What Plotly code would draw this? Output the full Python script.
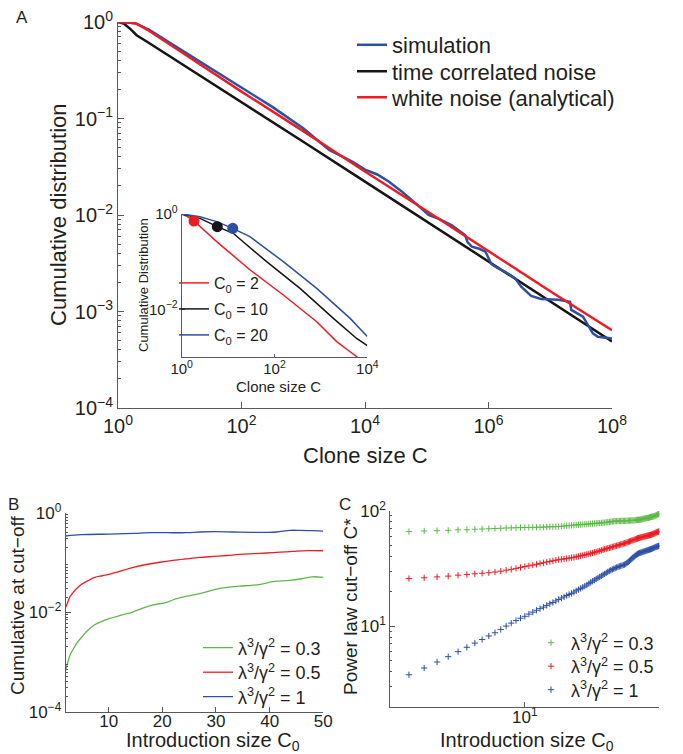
import plotly.graph_objects as go

W, H = 683, 754
FONT = "Liberation Sans"
TXT = "#231f20"
AX = "#58595b"
BLUE = "#2e4fa6"
RED = "#ed1c24"
BLACK = "#151515"
GREEN = "#5fb94a"

# ---------------- Panel A (main) ----------------
A_sim_C = [1, 1.41, 1.86, 3.16, 10, 31.6, 100, 316, 1000, 2630, 3800, 6310, 1.0e4, 1.58e4,
           2.45e4, 3.98e4, 6.61e4, 1.07e5, 1.58e5, 2.51e5, 4.17e5, 4.57e5, 5.37e5, 7.08e5,
           8.91e5, 1.12e6, 1.41e6, 1.86e6, 2.69e6, 3.39e6, 4.9e6, 7.08e6, 1.35e7, 2.09e7,
           2.19e7, 2.82e7, 3.39e7, 4.9e7, 5.89e7, 9.33e7, 1e8]
A_sim_P = [1.0, 0.993, 0.977, 0.832, 0.525, 0.331, 0.209, 0.132, 0.0794, 0.0472, 0.0419,
           0.0355, 0.0295, 0.0263, 0.0221, 0.0174, 0.0132, 0.0100, 0.00912, 0.00787, 0.00621,
           0.00525, 0.0047, 0.00447, 0.00417, 0.00309, 0.00282, 0.00257, 0.00221, 0.00181,
           0.00145, 0.00135, 0.00132, 0.00126, 0.00104, 0.00095, 0.000883, 0.000594,
           0.000548, 0.000527, 0.000525]
A_tc_C = [1, 1.26, 1.58, 2, 3, 10, 100, 1e3, 1e4, 1e5, 1e6, 1e7, 1e8]
A_tc_P = [1.0, 0.955, 0.85, 0.73, 0.62, 0.38, 0.149, 0.0575, 0.0222, 0.0086, 0.0033, 0.00128, 0.00049]
A_wn_C = [1, 1.5, 2, 3, 10, 100, 1e3, 1e4, 1e5, 1e6, 1e7, 1e8]
A_wn_P = [1.0, 0.99, 0.96, 0.83, 0.50, 0.19, 0.074, 0.0282, 0.011, 0.0042, 0.00162, 0.00064]

# ---------------- Panel A (inset) ----------------
In_c2_C = [1, 1.26, 1.84, 5.68, 29.5, 155, 813, 2190, 4270, 5890, 7000]
In_c2_P = [1.0, 0.91, 0.713, 0.263, 0.0676, 0.020, 0.0055, 0.0021, 0.00129, 0.00102, 0.0008]
In_c10_C = [1, 2.48, 5.85, 12.9, 67.6, 355, 1860, 5890, 1e4]
In_c10_P = [1.0, 0.81, 0.542, 0.394, 0.1, 0.0275, 0.00646, 0.00245, 0.00174]
In_c20_C = [1, 2.48, 5.68, 12.6, 29.5, 155, 813, 4270, 1e4]
In_c20_P = [1.0, 0.879, 0.692, 0.50, 0.335, 0.1, 0.0275, 0.00646, 0.00269]
In_dot_C = [1.84, 5.85, 12.6]
In_dot_P = [0.713, 0.542, 0.50]

# ---------------- Panel B ----------------
B_g_C0 = [2, 2.4, 2.8, 3.4, 4.05, 4.9, 6, 7.4, 8.8, 10.24, 12.5, 14.6, 16.5, 18.3, 20.8, 22.5,
          24.5, 27, 29, 30.7, 32.5, 34.4, 36.5, 38.1, 40.6, 43.7, 46, 48, 50]
B_g_P = [0.00068, 0.001, 0.00137, 0.0018, 0.00236, 0.0031, 0.0042, 0.0056, 0.0066, 0.0075,
         0.0088, 0.0102, 0.0122, 0.0140, 0.0158, 0.0185, 0.021, 0.0235, 0.027, 0.030, 0.032,
         0.0335, 0.0345, 0.036, 0.041, 0.0435, 0.047, 0.0515, 0.050]
B_r_C0 = [2, 2.4, 2.8, 3.4, 4.05, 4.9, 6, 7.4, 8.8, 10.24, 12, 14.6, 17, 19.5, 22, 24.5, 27,
          29.5, 32, 34.4, 37, 39.4, 42, 44.3, 47, 50]
B_r_P = [0.0125, 0.016, 0.0204, 0.025, 0.030, 0.036, 0.042, 0.050, 0.054, 0.058, 0.066, 0.08,
         0.091, 0.101, 0.11, 0.118, 0.126, 0.132, 0.138, 0.145, 0.15, 0.155, 0.161, 0.167,
         0.173, 0.172]
B_b_C0 = [2, 4.9, 10.2, 14.6, 17.7, 20.8, 24.5, 27, 29.5, 33.2, 36.9, 39.4, 41.3, 43.8, 45.6,
          48.1, 50]
B_b_P = [0.34, 0.361, 0.372, 0.385, 0.396, 0.396, 0.396, 0.409, 0.415, 0.409, 0.403, 0.403,
         0.409, 0.442, 0.442, 0.435, 0.428]

# ---------------- Panel C ----------------
C_C0 = [2.5 + 0.5 * i for i in range(96)]
C_g = [65.9, 66.7, 67.1, 67.6, 68.2, 68.4, 69.0, 69.4, 69.8, 70.1, 70.4, 70.8, 71.0, 71.2, 71.4,
       71.5, 71.6, 71.7, 71.8, 71.9, 72.1, 72.3, 72.5, 72.6, 72.8, 72.9, 73.3, 73.7, 74.0, 74.4,
       74.8, 75.0, 75.2, 75.5, 75.7, 76.0, 76.3, 76.5, 76.8, 77.1, 77.3, 77.5, 77.7, 77.9, 78.1,
       78.4, 78.6, 78.9, 79.2, 79.5, 79.8, 80.2, 80.6, 81.0, 81.1, 81.2, 81.3, 81.4, 81.5, 81.6,
       81.7, 81.7, 81.8, 81.9, 82.0, 82.1, 82.2, 82.3, 82.4, 82.5, 82.7, 83.0, 83.3, 83.5, 83.7,
       83.9, 84.2, 84.7, 85.2, 85.7, 86.0, 86.3, 86.6, 86.8, 87.4, 88.0, 88.5, 88.8, 89.2, 89.7,
       90.2, 91.0, 91.8, 92.6, 93.4, 94.0]
C_r = [25.8, 26.2, 26.7, 27.1, 27.6, 28.0, 28.4, 28.7, 29.0, 29.4, 29.9, 30.5, 31.0, 31.6, 32.2,
       32.8, 33.3, 33.8, 34.3, 34.9, 35.4, 35.9, 36.3, 36.8, 37.2, 37.6, 37.9, 38.2, 38.5, 38.8,
       39.1, 39.4, 39.8, 40.2, 40.6, 41.0, 41.4, 41.8, 42.2, 42.6, 43.0, 43.5, 43.9, 44.4, 44.8,
       45.3, 45.8, 46.3, 46.8, 47.2, 47.6, 48.0, 48.5, 48.9, 49.3, 49.7, 50.1, 50.5, 51.0, 51.4,
       51.8, 52.2, 52.6, 53.1, 53.6, 54.1, 54.6, 55.1, 55.6, 56.0, 56.5, 57.0, 57.5, 57.9, 58.3,
       58.6, 58.9, 59.2, 59.5, 59.8, 60.1, 60.4, 60.7, 61.0, 61.3, 61.6, 62.0, 62.5, 63.0, 63.5,
       64.0, 64.5, 65.0, 65.4, 65.8, 66.2]
C_b = [3.78, 4.33, 4.88, 5.43, 6.0, 6.55, 7.12, 7.65, 8.2, 8.75, 9.35, 10.0, 10.6, 11.15, 11.7,
       12.15, 12.7, 13.2, 13.7, 14.15, 14.6, 15.1, 15.6, 16.0, 16.5, 17.0, 17.5, 17.9, 18.4, 18.8,
       19.2, 19.7, 20.2, 20.7, 21.2, 21.7, 22.2, 22.7, 23.3, 23.9, 24.5, 25.0, 25.6, 26.1, 26.6,
       27.2, 27.8, 28.3, 28.9, 29.5, 30.0, 30.5, 31.0, 31.4, 31.8, 32.2, 32.6, 32.9, 33.2, 33.5,
       33.8, 34.1, 34.6, 35.3, 36.0, 36.8, 37.6, 38.4, 39.2, 40.0, 40.8, 41.5, 42.1, 42.6, 43.0,
       43.3, 43.6, 43.9, 44.2, 44.5, 44.8, 45.1, 45.4, 45.7, 46.0, 46.3, 46.6, 47.0, 47.4, 47.8,
       48.2, 48.5, 48.8, 49.1, 49.4, 49.8]

LAM = "λ<sup>3</sup>/γ<sup>2</sup> = "
B_names = [LAM + "0.3", LAM + "0.5", LAM + "1"]


def px(x):
    return x / W


def py(y):
    return 1 - y / H


def sup(e):
    return "10<sup>" + (str(e) if e >= 0 else "−" + str(-e)) + "</sup>"


def axis(domain, anchor, **kw):
    d = dict(domain=domain, anchor=anchor, showline=True, linecolor=AX, linewidth=1,
             ticks="inside", tickcolor=AX, ticklen=5, tickwidth=1, showgrid=False,
             zeroline=False, mirror=False, automargin=False,
             tickfont=dict(family=FONT, color=TXT, size=17))
    d.update(kw)
    return d


fig = go.Figure()
legends = {}
_count = [0]


def new_legend(x_text, y_row, size):
    _count[0] += 1
    key = "legend" if _count[0] == 1 else "legend%d" % _count[0]
    legends[key] = dict(x=px(x_text - 40), y=py(y_row), xanchor="left", yanchor="middle",
                        bgcolor="rgba(0,0,0,0)", borderwidth=0, itemwidth=30,
                        font=dict(family=FONT, size=size, color=TXT))
    return key


# Panel A main (one legend box per entry for exact row placement)
lgA = [new_legend(392, 45, 22), new_legend(392, 71.5, 22), new_legend(392, 97.5, 22)]
fig.add_trace(go.Scatter(x=A_tc_C, y=A_tc_P, mode="lines", name="time correlated noise",
                         line=dict(color=BLACK, width=2.5), xaxis="x", yaxis="y", legend=lgA[1]))
fig.add_trace(go.Scatter(x=A_sim_C, y=A_sim_P, mode="lines", name="simulation",
                         line=dict(color=BLUE, width=2.5), xaxis="x", yaxis="y", legend=lgA[0]))
fig.add_trace(go.Scatter(x=A_wn_C, y=A_wn_P, mode="lines", name="white noise (analytical)",
                         line=dict(color=RED, width=2.5), xaxis="x", yaxis="y", legend=lgA[2]))

# Inset
rows_in = [283, 309, 335]
for i, (xs, ys, col, nm) in enumerate([(In_c2_C, In_c2_P, RED, "C<sub>0</sub> = 2"),
                                       (In_c10_C, In_c10_P, BLACK, "C<sub>0</sub> = 10"),
                                       (In_c20_C, In_c20_P, BLUE, "C<sub>0</sub> = 20")]):
    fig.add_trace(go.Scatter(x=xs, y=ys, mode="lines", name=nm, line=dict(color=col, width=1.5),
                             xaxis="x2", yaxis="y2", legend=new_legend(214, rows_in[i], 16)))
fig.add_trace(go.Scatter(x=In_dot_C, y=In_dot_P, mode="markers", showlegend=False,
                         marker=dict(color=[RED, BLACK, BLUE], size=11),
                         xaxis="x2", yaxis="y2"))

# Panel B
rows_B = [648, 672.5, 697]
for i, (xs, ys, col, nm) in enumerate([(B_g_C0, B_g_P, GREEN, B_names[0]),
                                       (B_r_C0, B_r_P, RED, B_names[1]),
                                       (B_b_C0, B_b_P, BLUE, B_names[2])]):
    fig.add_trace(go.Scatter(x=xs, y=ys, mode="lines", name=nm, line=dict(color=col, width=1.3),
                             line_shape="spline", xaxis="x3", yaxis="y3",
                             legend=new_legend(238, rows_B[i], 18)))

# Panel C
rows_C = [643, 666.5, 690]
for i, (ys, col, nm) in enumerate([(C_g, GREEN, B_names[0]), (C_r, RED, B_names[1]),
                                   (C_b, BLUE, B_names[2])]):
    fig.add_trace(go.Scatter(x=C_C0, y=ys, mode="markers", name=nm,
                             marker=dict(symbol="cross-thin", size=4.5, color=col,
                                         line=dict(color=col, width=1)),
                             xaxis="x4", yaxis="y4", legend=new_legend(571, rows_C[i], 18)))

minorA = [m * 10 ** e for e in range(-4, 0) for m in range(2, 10)]
minorB = [m * 10 ** e for e in range(-4, 0) for m in range(2, 10)]
minorC = [m * 10 ** e for e in range(0, 2) for m in range(2, 10)]

lay = dict(
    template="none",
    width=W, height=H, autosize=False, margin=dict(l=0, r=0, t=0, b=0, pad=0),
    paper_bgcolor="white", plot_bgcolor="rgba(0,0,0,0)", showlegend=True,
    font=dict(family=FONT, color=TXT),
    xaxis=axis([px(118), px(612)], "y", type="log", range=[0, 8],
               tickvals=[1, 1e2, 1e4, 1e6, 1e8], ticktext=[sup(e) for e in (0, 2, 4, 6, 8)],
               tickfont=dict(family=FONT, color=TXT, size=20), ticklen=6),
    yaxis=axis([py(408), py(22)], "x", type="log", range=[-4, 0],
               tickvals=[1e-4, 1e-3, 1e-2, 1e-1, 1], ticktext=[sup(e) for e in (-4, -3, -2, -1, 0)],
               tickfont=dict(family=FONT, color=TXT, size=20), ticklen=6,
               minor=dict(ticks="inside", ticklen=3, tickcolor=AX, tickvals=minorA)),
    xaxis2=axis([px(181.7), px(367.3)], "y2", type="log", range=[0, 4], ticklabelstandoff=-2,
                tickvals=[1, 1e2, 1e4], ticktext=[sup(e) for e in (0, 2, 4)],
                tickfont=dict(family=FONT, color=TXT, size=15), ticklen=3),
    yaxis2=axis([py(357), py(214)], "x2", type="log", range=[-3, 0],
                tickvals=[1e-2, 1], ticktext=[sup(-2), sup(0)],
                tickfont=dict(family=FONT, color=TXT, size=15), ticklen=3),
    xaxis3=axis([px(65.7), px(323.3)], "y3", range=[2, 50], ticklabelstandoff=-6,
                tickvals=[10, 20, 30, 40, 50], ticktext=["10", "20", "30", "40", "50"]),
    yaxis3=axis([py(711.7), py(512.7)], "x3", type="log", range=[-4, 0],
                tickvals=[1e-4, 1e-2, 1], ticktext=[sup(-4), sup(-2), sup(0)],
                minor=dict(ticks="inside", ticklen=2, tickcolor=AX, tickvals=minorB)),
    xaxis4=axis([px(390.3), px(659.3)], "y4", type="log", range=[0.30103, 1.69897],
                ticklabelstandoff=-5, tickvals=[10], ticktext=[sup(1)]),
    yaxis4=axis([py(706.7), py(510.7)], "x4", type="log", range=[0.30103, 2],
                tickvals=[10, 100], ticktext=[sup(1), sup(2)],
                minor=dict(ticks="inside", ticklen=2, tickcolor=AX, tickvals=minorC)),
)
lay.update(legends)
fig.update_layout(**lay)


def ann(text, x, y, size, angle=0, anchor="center"):
    fig.add_annotation(text=text, x=px(x), y=py(y), xref="paper", yref="paper",
                       showarrow=False, textangle=angle, xanchor=anchor, yanchor="middle",
                       font=dict(family=FONT, size=size, color=TXT))


ann("A", 22, 18, 17)
ann("B", 13, 504, 17)
ann("C", 345, 504, 17)
ann("Cumulative distribution", 58, 215, 22, -90)
ann("Clone size C", 365, 455, 22)
ann("Cumulative Distribution", 143, 285, 13, -90)
ann("Clone size C", 278, 386, 15)
ann("Cumulative at cut−off", 17, 606, 19, -90)
ann("Introduction size C<sub>0</sub>", 213, 741, 20)
ann("Power law cut−off C*", 350, 607, 19, -90)
ann("Introduction size C<sub>0</sub>", 527, 741, 20)

fig.write_html("out.html", config={"displayModeBar": False},
               post_script="document.body.style.margin='0px';")
